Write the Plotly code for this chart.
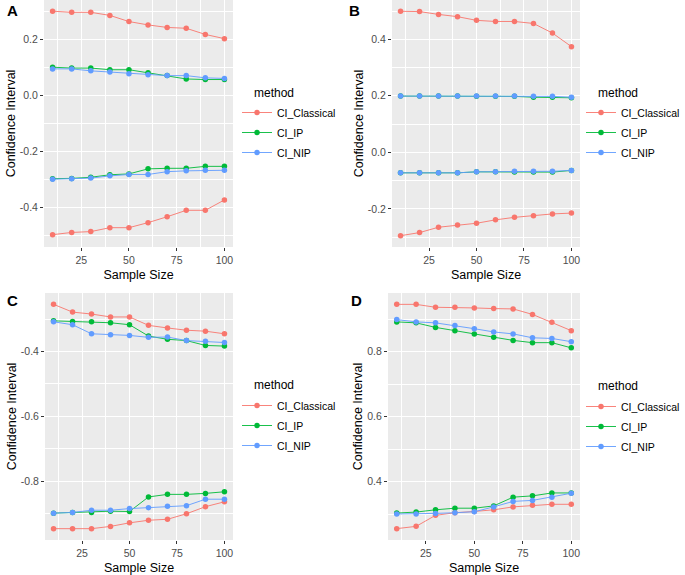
import plotly.graph_objects as go

sample_size = [10, 20, 30, 40, 50, 60, 70, 80, 90, 100]
methods = ["CI_Classical", "CI_IP", "CI_NIP"]
colors = {"CI_Classical": "#F8766D", "CI_IP": "#00BA38", "CI_NIP": "#619CFF"}

# Panel A
A_classical_upper = [0.302, 0.298, 0.298, 0.287, 0.265, 0.253, 0.244, 0.241, 0.219, 0.204]
A_classical_lower = [-0.496, -0.488, -0.485, -0.471, -0.471, -0.453, -0.432, -0.409, -0.409, -0.372]
A_ip_upper = [0.102, 0.099, 0.099, 0.093, 0.093, 0.082, 0.072, 0.060, 0.058, 0.058]
A_ip_lower = [-0.296, -0.295, -0.291, -0.282, -0.279, -0.261, -0.259, -0.259, -0.252, -0.252]
A_nip_upper = [0.096, 0.096, 0.089, 0.085, 0.079, 0.075, 0.072, 0.072, 0.064, 0.062]
A_nip_lower = [-0.298, -0.296, -0.294, -0.286, -0.281, -0.281, -0.271, -0.268, -0.266, -0.266]

# Panel B
B_classical_upper = [0.499, 0.498, 0.488, 0.480, 0.467, 0.463, 0.463, 0.456, 0.422, 0.374]
B_classical_lower = [-0.295, -0.284, -0.265, -0.257, -0.251, -0.239, -0.230, -0.224, -0.218, -0.215]
B_ip_upper = [0.199, 0.199, 0.199, 0.199, 0.198, 0.198, 0.198, 0.195, 0.195, 0.193]
B_ip_lower = [-0.0725, -0.0725, -0.0725, -0.0725, -0.069, -0.069, -0.070, -0.070, -0.070, -0.064]
B_nip_upper = [0.199, 0.199, 0.199, 0.199, 0.199, 0.199, 0.199, 0.198, 0.198, 0.195]
B_nip_lower = [-0.0725, -0.0725, -0.0725, -0.0725, -0.069, -0.069, -0.067, -0.067, -0.067, -0.064]

# Panel C
C_classical_upper = [-0.254, -0.278, -0.284, -0.293, -0.293, -0.319, -0.327, -0.334, -0.337, -0.345]
C_classical_lower = [-0.947, -0.947, -0.947, -0.940, -0.929, -0.921, -0.918, -0.901, -0.879, -0.864]
C_ip_upper = [-0.305, -0.307, -0.308, -0.311, -0.317, -0.352, -0.362, -0.366, -0.381, -0.383]
C_ip_lower = [-0.899, -0.897, -0.897, -0.893, -0.894, -0.849, -0.841, -0.841, -0.838, -0.833]
C_nip_upper = [-0.308, -0.317, -0.345, -0.348, -0.350, -0.356, -0.355, -0.366, -0.368, -0.372]
C_nip_lower = [-0.899, -0.897, -0.890, -0.890, -0.885, -0.882, -0.878, -0.876, -0.856, -0.856]

# Panel D
D_classical_upper = [0.946, 0.946, 0.937, 0.937, 0.935, 0.933, 0.932, 0.915, 0.891, 0.865]
D_classical_lower = [0.255, 0.262, 0.296, 0.304, 0.308, 0.313, 0.322, 0.327, 0.330, 0.330]
D_ip_upper = [0.892, 0.889, 0.875, 0.865, 0.855, 0.845, 0.835, 0.828, 0.828, 0.812]
D_ip_lower = [0.303, 0.306, 0.313, 0.318, 0.318, 0.325, 0.352, 0.356, 0.365, 0.365]
D_nip_upper = [0.899, 0.892, 0.889, 0.881, 0.871, 0.861, 0.855, 0.843, 0.841, 0.831]
D_nip_lower = [0.300, 0.300, 0.302, 0.304, 0.307, 0.322, 0.339, 0.342, 0.352, 0.364]

y_ticks_A = [-0.4, -0.2, 0.0, 0.2]
y_ticks_B = [-0.2, 0.0, 0.2, 0.4]
y_ticks_C = [-0.8, -0.6, -0.4]
y_ticks_D = [0.4, 0.6, 0.8]
x_ticks = [25, 50, 75, 100]

panels = [
    ("A", {"CI_Classical": (A_classical_upper, A_classical_lower), "CI_IP": (A_ip_upper, A_ip_lower),
           "CI_NIP": (A_nip_upper, A_nip_lower)}, y_ticks_A, [-0.54, 0.342]),
    ("B", {"CI_Classical": (B_classical_upper, B_classical_lower), "CI_IP": (B_ip_upper, B_ip_lower),
           "CI_NIP": (B_nip_upper, B_nip_lower)}, y_ticks_B, [-0.335, 0.539]),
    ("C", {"CI_Classical": (C_classical_upper, C_classical_lower), "CI_IP": (C_ip_upper, C_ip_lower),
           "CI_NIP": (C_nip_upper, C_nip_lower)}, y_ticks_C, [-0.982, -0.219]),
    ("D", {"CI_Classical": (D_classical_upper, D_classical_lower), "CI_IP": (D_ip_upper, D_ip_lower),
           "CI_NIP": (D_nip_upper, D_nip_lower)}, y_ticks_D, [0.220, 0.981]),
]

W, H = 685, 575
# plot-area pixel boxes (left, right, top, bottom)
boxes = {"A": (44, 233, 0, 247), "B": (392, 580, 0, 247), "C": (45, 233, 293, 540), "D": (388, 580, 293, 540)}
# legend title position (left, center y) and legend items top
title_pos = {"A": (252, 93), "B": (596, 93), "C": (252, 385), "D": (596, 386)}
legend_pos = {"A": (237, 98), "B": (581, 98), "C": (237, 391), "D": (581, 392)}
letter_pos = {"A": (12, 10), "B": (354, 10), "C": (12, 300), "D": (356, 300)}

fig = go.Figure()
layout = {}
annotations = []
font_family = "Liberation Sans, Arial, sans-serif"

for i, (name, data, yt, yr) in enumerate(panels):
    idx = "" if i == 0 else str(i + 1)
    xa, ya = "x" + idx, "y" + idx
    leg = "legend" + idx
    for m in methods:
        up, lo = data[m]
        for j, series in enumerate((up, lo)):
            fig.add_trace(go.Scatter(
                x=sample_size, y=series, mode="lines+markers", name=m,
                line=dict(color=colors[m], width=0.9),
                marker=dict(color=colors[m], size=5.5),
                xaxis=xa, yaxis=ya, legend=leg, legendgroup=name + m,
                showlegend=(j == 0),
            ))
    l, r, t, b = boxes[name]
    axcommon = dict(showline=False, zeroline=False, showgrid=True, gridcolor="white", gridwidth=1.1,
                    ticks="outside", ticklen=3, tickcolor="#333333", tickwidth=1,
                    tickfont=dict(family=font_family, size=10.5, color="#4D4D4D"),
                    automargin=False)
    layout["xaxis" + idx] = dict(
        axcommon, domain=[l / W, r / W], range=[5.5, 104.5], anchor=ya,
        tickvals=x_ticks, ticktext=[str(v) for v in x_ticks],
        minor=dict(tickvals=[12.5, 37.5, 62.5, 87.5], showgrid=True, gridcolor="white", gridwidth=0.5, ticks=""),
        title=dict(text="Sample Size", font=dict(family=font_family, size=12.5, color="black"), standoff=5),
    )
    step = yt[1] - yt[0]
    minor_vals = [yt[0] - step / 2] + [v + step / 2 for v in yt]
    layout["yaxis" + idx] = dict(
        axcommon, domain=[1 - b / H, 1 - t / H], range=yr, anchor=xa,
        tickvals=yt, ticktext=["%.1f" % v for v in yt],
        minor=dict(tickvals=minor_vals, showgrid=True, gridcolor="white", gridwidth=0.5, ticks=""),
        title=dict(text="Confidence Interval", font=dict(family=font_family, size=12.5, color="black"), standoff=1),
    )
    lx, ly = legend_pos[name]
    layout[leg] = dict(
        x=lx / W, y=1 - ly / H, xanchor="left", yanchor="top", bgcolor="rgba(0,0,0,0)",
        font=dict(family=font_family, size=10.5, color="black"), tracegroupgap=1,
        itemwidth=30,
    )
    tx, ty = title_pos[name]
    annotations.append(dict(text="method", x=tx / W, y=1 - ty / H, xref="paper", yref="paper",
                            showarrow=False, xanchor="left", yanchor="middle",
                            font=dict(family=font_family, size=12, color="black")))
    px, py = letter_pos[name]
    annotations.append(dict(text="<b>%s</b>" % name, x=px / W, y=1 - py / H, xref="paper", yref="paper",
                            showarrow=False, xanchor="center", yanchor="middle",
                            font=dict(family=font_family, size=15, color="black")))

fig.update_layout(**layout)
fig.update_layout(
    width=W, height=H, margin=dict(l=0, r=0, t=0, b=0),
    paper_bgcolor="white", plot_bgcolor="#EBEBEB",
    annotations=annotations, showlegend=True,
)
fig.write_html("out.html", config={"displayModeBar": False},
               post_script="document.body.style.margin='0';document.body.style.padding='0';")
